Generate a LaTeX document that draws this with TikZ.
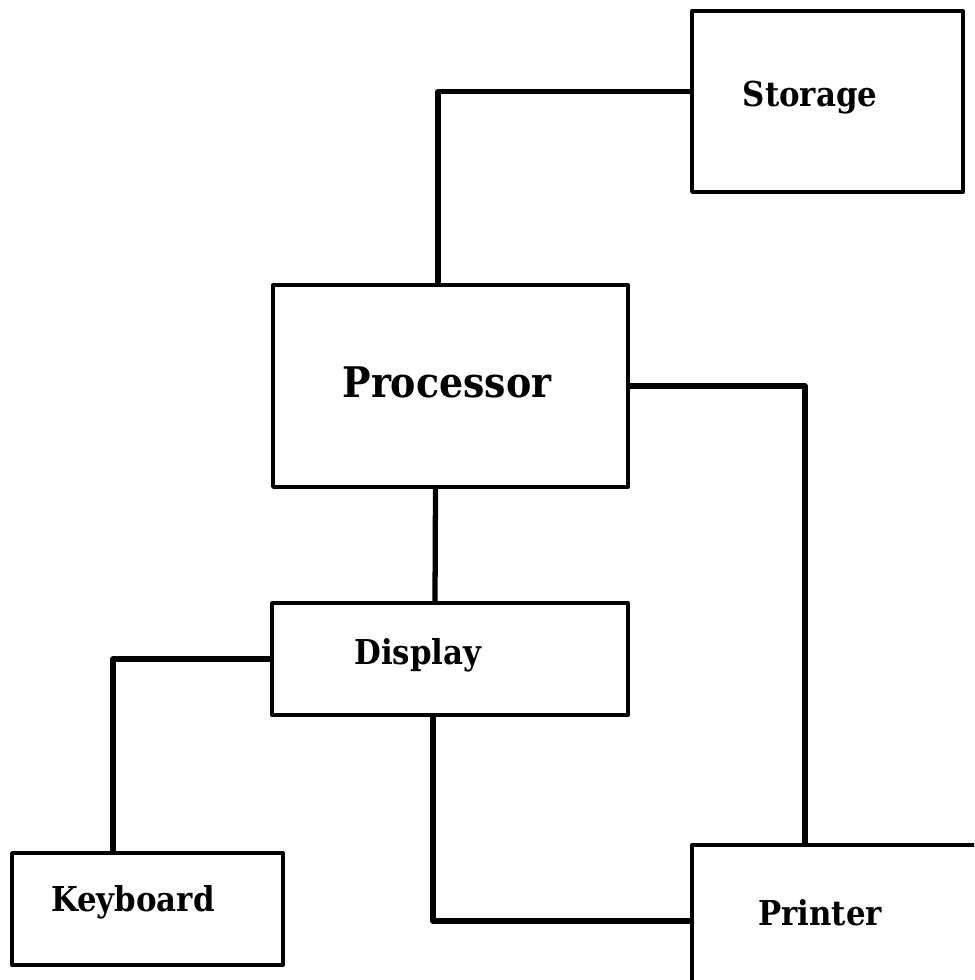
\documentclass[tikz,border=0pt]{standalone}
\usepackage{fontspec}
\newfontfamily\boxfont{DejaVu Serif Condensed}

\begin{document}
\begin{tikzpicture}[line join=round, line cap=round,
	box/.style={draw, line width=2.2pt, inner sep=0pt},
	lbl/.style={anchor=base, font=\boxfont\bfseries\fontsize{19.5}{22}\selectfont},
	wire/.style={line width=3pt}]
	\def\W{19.48} \def\H{19.6}
	\useasboundingbox (0,0) rectangle (\W,\H);
	\clip (0,0) rectangle (\W,\H);
	
	% [Khung các khối]
	\node[box, minimum width=5.42cm, minimum height=3.62cm] (Storage) at (16.55,17.57) {};
	\node[box, minimum width=7.1cm, minimum height=4.04cm] (Processor) at (9.01,11.88) {};
	\node[box, minimum width=7.12cm, minimum height=2.24cm] (Display) at (9.0,6.42) {};
	\node[box, minimum width=5.42cm, minimum height=2.24cm] (Keyboard) at (2.95,1.42) {};
	\node[box, minimum width=7cm, minimum height=3.04cm, anchor=north west] (Printer) at (13.8,2.74) {};
	
	% [Chữ trong khối]
	\node[lbl] (StorageT) at (16.2,17.46) {Storage};
	\node[lbl, font=\boxfont\bfseries\fontsize{24}{26}\selectfont] (ProcessorT) at (8.94,11.64) {Processor};
	\node[lbl] (DisplayT) at (8.36,6.3) {Display};
	\node[lbl] (KeyboardT) at (2.66,1.36) {Keyboard};
	\node[lbl] (PrinterT) at (16.4,1.08) {Printer};
	
	% [Đường nối]
	\draw[wire] ([yshift=0.2cm]Storage.west) -| ([xshift=-0.25cm]Processor.north);
	\draw[wire] (Processor.east) -| ([xshift=2.3cm]Printer.north west);
	\draw[wire] ([xshift=-0.3cm]Processor.south) -- ([xshift=-0.3cm]Display.north);
	\draw[wire] (Display.west) -| ([xshift=-0.69cm]Keyboard.north);
	\draw[wire] ([xshift=-0.34cm]Display.south) |- (Printer.west);
\end{tikzpicture}
\end{document}
